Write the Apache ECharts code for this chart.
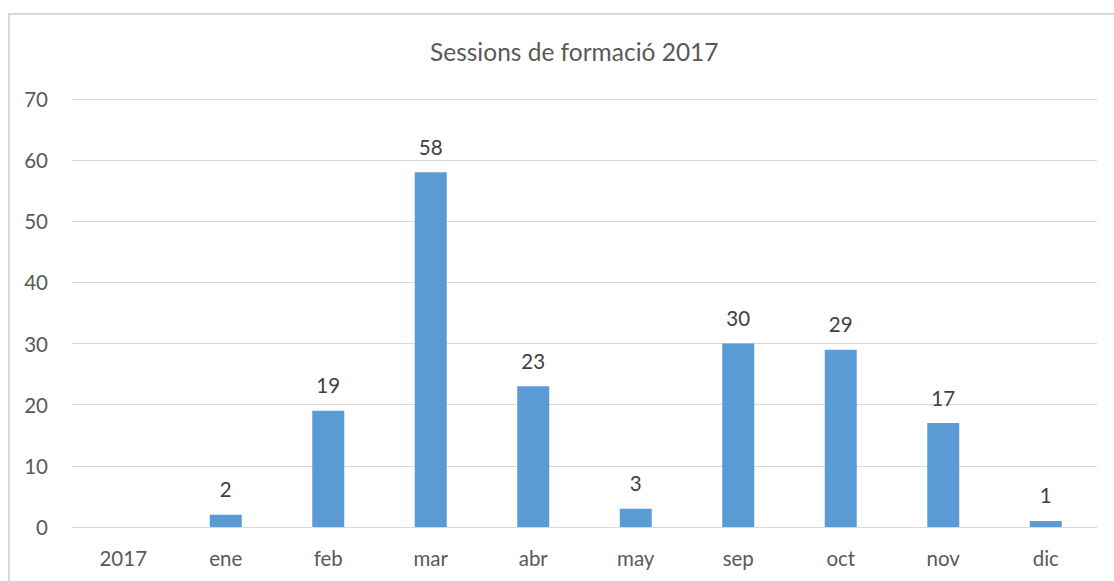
<!DOCTYPE html>
<html>
<head>
<meta charset="utf-8">
<script src="https://cdn.jsdelivr.net/npm/echarts@6/dist/echarts.min.js"></script>
<style>
  html, body { margin: 0; padding: 0; background: #fff; overflow: hidden; }
  #frame { position: absolute; left: 8px; top: 13px; width: 1120px; height: 600px; border: 2px solid #d9d9d9; box-sizing: border-box; }
  #chart { position: absolute; left: 0; top: 0; width: 1114px; height: 581px; }
</style>
</head>
<body>
<div id="frame"></div>
<div id="chart"></div>
<script>
var categories = ['2017', 'ene', 'feb', 'mar', 'abr', 'may', 'sep', 'oct', 'nov', 'dic'];
var sessions = [null, 2, 19, 58, 23, 3, 30, 29, 17, 1];
var yTicks = { min: 0, max: 70, interval: 10 };

var font = 'Lato, "Open Sans", sans-serif';
var chart = echarts.init(document.getElementById('chart'), null, { renderer: 'svg' });
chart.setOption({
  animation: false,
  title: {
    text: 'Sessions de formació 2017',
    left: 425,
    top: 34,
    textStyle: { color: '#595959', fontSize: 24.5, fontWeight: 'normal', fontFamily: font }
  },
  grid: { left: 72, right: 17, top: 99, bottom: 54, containLabel: false },
  xAxis: {
    type: 'category',
    data: categories,
    axisLine: { lineStyle: { color: '#d9d9d9', width: 1 } },
    axisTick: { show: false },
    axisLabel: { color: '#595959', fontSize: 20.5, fontFamily: font, margin: 20 }
  },
  yAxis: {
    type: 'value',
    min: yTicks.min,
    max: yTicks.max,
    interval: yTicks.interval,
    axisLine: { show: false },
    axisTick: { show: false },
    axisLabel: { color: '#595959', fontSize: 20.5, fontFamily: font, margin: 24 },
    splitLine: { lineStyle: { color: '#d9d9d9', width: 1 } }
  },
  series: [{
    type: 'bar',
    data: sessions,
    barWidth: 32,
    itemStyle: { color: '#5b9bd5' },
    label: { show: true, position: 'top', distance: 15, color: '#404040', fontSize: 20.5, fontFamily: font }
  }]
});
</script>
</body>
</html>
